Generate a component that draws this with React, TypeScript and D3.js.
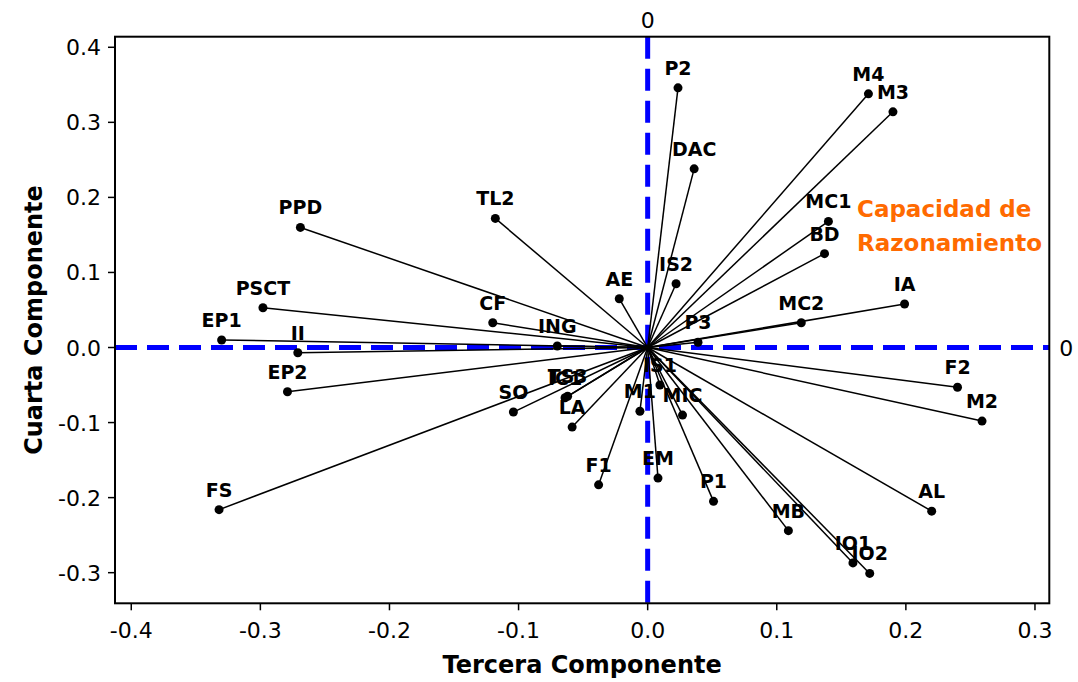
import React from "react";
import * as d3 from "d3";

const names = [
  "P2", "M4", "M3", "DAC", "MC1", "BD", "PPD", "TL2", "IS2", "AE", "IA", "PSCT",
  "CF", "MC2", "P3", "EP1", "ING", "II", "EP2", "F2", "M2", "SO", "LA", "TS3",
  "IC1", "IS1", "M1", "MIC", "EM", "F1", "P1", "MB", "AL", "IO1", "IO2", "FS",
];
const xValues = [
  0.0235, 0.171, 0.190, 0.036, 0.140, 0.137, -0.269, -0.118, 0.022, -0.022, 0.199, -0.298,
  -0.120, 0.119, 0.039, -0.330, -0.070, -0.271, -0.279, 0.240, 0.259, -0.104, -0.0585, -0.062,
  -0.064, 0.0095, -0.006, 0.027, 0.008, -0.038, 0.051, 0.109, 0.220, 0.159, 0.172, -0.332,
];
const yValues = [
  0.346, 0.338, 0.314, 0.238, 0.168, 0.125, 0.160, 0.172, 0.085, 0.065, 0.058, 0.053,
  0.033, 0.033, 0.007, 0.010, 0.002, -0.007, -0.059, -0.053, -0.098, -0.086, -0.106, -0.065,
  -0.067, -0.050, -0.085, -0.090, -0.174, -0.183, -0.205, -0.244, -0.218, -0.287, -0.301, -0.216,
];
const xTicks = [-0.4, -0.3, -0.2, -0.1, 0.0, 0.1, 0.2, 0.3];
const yTicks = [0.4, 0.3, 0.2, 0.1, 0.0, -0.1, -0.2, -0.3];
const xDomain = [-0.4126, 0.3111];
const yDomain = [-0.3408, 0.4141];
const annotation = ["Capacidad de", "Razonamiento"];

const W = 1078;
const H = 682;
const L = 115, R = 1049.3, T = 36.7, B = 603.3;

export default function App() {
  const x = d3.scaleLinear().domain(xDomain).range([L, R]);
  const y = d3.scaleLinear().domain(yDomain).range([B, T]);
  const font = "'DejaVu Sans', Verdana, sans-serif";
  const pts = names.map((n, i) => ({ n, x: xValues[i], y: yValues[i] }));
  return (
    <svg
      width={W}
      height={H}
      style={{ position: "absolute", left: 0, top: 0, background: "#fff" }}
      fontFamily={font}
    >
      <rect x={0} y={0} width={W} height={H} fill="#fff" />
      {/* reference lines */}
      <line x1={x(0)} x2={x(0)} y1={T} y2={B} stroke="#0000ff" strokeWidth={5} strokeDasharray="22 10" />
      <line x1={L} x2={R} y1={y(0)} y2={y(0)} stroke="#0000ff" strokeWidth={5} strokeDasharray="22 10" />
      <text x={x(0)} y={28} textAnchor="middle" fontSize={22}>0</text>
      <text x={R + 10} y={y(0) + 8} textAnchor="start" fontSize={22}>0</text>
      {/* vectors */}
      {pts.map((p) => (
        <line key={"l" + p.n} x1={x(0)} y1={y(0)} x2={x(p.x)} y2={y(p.y)} stroke="#000" strokeWidth={1.5} />
      ))}
      {pts.map((p) => (
        <circle key={"c" + p.n} cx={x(p.x)} cy={y(p.y)} r={4.5} fill="#000" />
      ))}
      {pts.map((p) => (
        <text key={"t" + p.n} x={x(p.x)} y={y(p.y) - 13} textAnchor="middle" fontSize={19} fontWeight="bold">
          {p.n}
        </text>
      ))}
      {/* frame */}
      <rect x={L} y={T} width={R - L} height={B - T} fill="none" stroke="#000" strokeWidth={2} />
      {/* x axis */}
      {xTicks.map((t) => (
        <g key={"xt" + t}>
          <line x1={x(t)} x2={x(t)} y1={B} y2={B + 7} stroke="#000" strokeWidth={1.5} />
          <text x={x(t)} y={B + 35} textAnchor="middle" fontSize={22}>
            {t.toFixed(1)}
          </text>
        </g>
      ))}
      {yTicks.map((t) => (
        <g key={"yt" + t}>
          <line x1={L - 7} x2={L} y1={y(t)} y2={y(t)} stroke="#000" strokeWidth={1.5} />
          <text x={L - 14} y={y(t) + 8} textAnchor="end" fontSize={22}>
            {t.toFixed(1)}
          </text>
        </g>
      ))}
      <text x={(L + R) / 2} y={673} textAnchor="middle" fontSize={24} fontWeight="bold">
        Tercera Componente
      </text>
      <text
        transform={`translate(42, ${(T + B) / 2}) rotate(-90)`}
        textAnchor="middle"
        fontSize={24}
        fontWeight="bold"
      >
        Cuarta Componente
      </text>
      {annotation.map((s, i) => (
        <text key={s} x={857} y={217 + i * 34} fontSize={23} fontWeight="bold" fill="#ff6a00">
          {s}
        </text>
      ))}
    </svg>
  );
}
